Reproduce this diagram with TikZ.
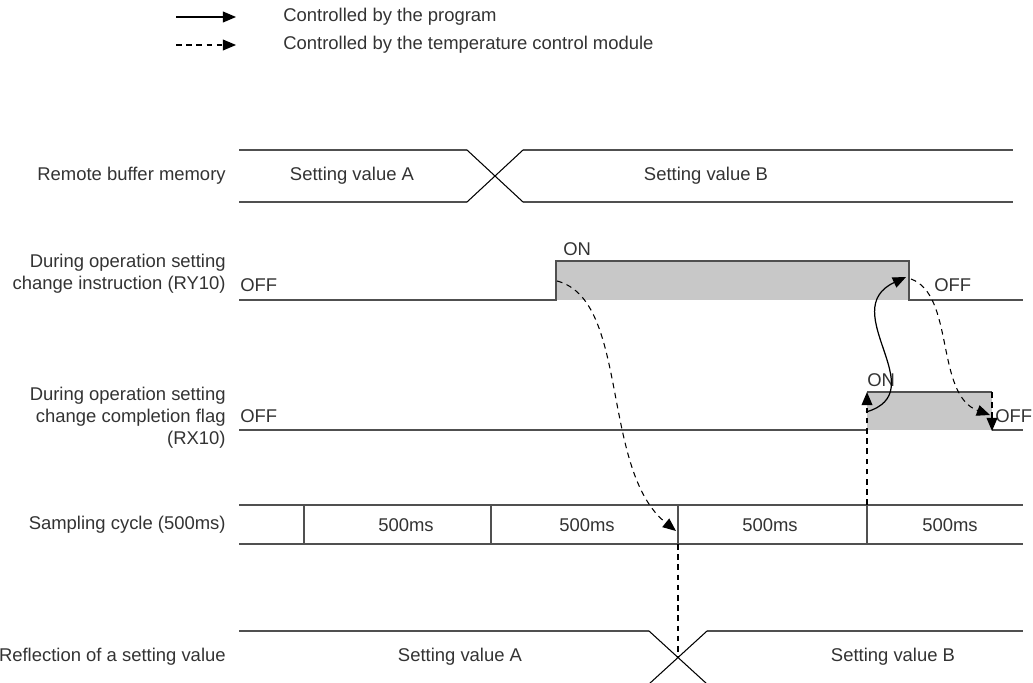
\documentclass[tikz,border=0pt]{standalone}
\usepackage{fontspec}
\setmainfont{Liberation Sans}
\usepackage{tikz}
\usetikzlibrary{arrows.meta,calc}
\definecolor{linegray}{HTML}{505050}
\definecolor{textgray}{HTML}{333333}
\definecolor{fillgray}{HTML}{C8C8C8}
\tikzset{every node/.append style={font=\fontsize{10.5}{12.6}\selectfont,text=textgray,inner sep=0pt},
  sig/.style={linegray,line width=0.9pt},
  cross/.style={black,line width=0.6pt},
  dsh/.style={black,line width=0.6pt,dash pattern=on 3.2pt off 2.6pt},
  sol/.style={black,line width=0.7pt},
  lbl/.style={anchor=east,align=right}}

\begin{document}
\begin{tikzpicture}[x=0.02cm,y=-0.02cm,>={Triangle[length=7.5pt,width=6.2pt]}]
  \useasboundingbox (0,0) rectangle (1033,682);
  % legend
  \coordinate (legA) at (176,17);  \coordinate (legB) at (236,17);
  \coordinate (legC) at (176,45);  \coordinate (legD) at (236,45);
  \draw[sol,->] (legA)--(legB);
  \draw[dsh,->] (legC)--(legD);
  \node[anchor=west] (legprog) at (283,17) {Controlled by the program};
  \node[anchor=west] (legmod) at (283,45) {Controlled by the temperature control module};
  % signal names
  \node[lbl] (nbuf) at (226,176) {Remote buffer memory};
  \node[lbl] (nry) at (226,274) {During operation setting\\change instruction (RY10)};
  \node[lbl] (nrx) at (226,418) {During operation setting\\change completion flag\\(RX10)};
  \node[lbl] (nsmp) at (226,525) {Sampling cycle (500ms)};
  \node[lbl] (nref) at (226,657) {Reflection of a setting value};
  % remote buffer memory
  \draw[sig] (239,150)--(467,150) (523,150)--(1013,150);
  \draw[sig] (239,202)--(467,202) (523,202)--(1013,202);
  \draw[cross] (467,150)--(523,202) (467,202)--(523,150);
  \node (bufA) at (352,176) {Setting value A};
  \node (bufB) at (706,176) {Setting value B};
  % RY10
  \fill[fillgray] (556,261) rectangle (909,300);
  \draw[sig] (239,300)--(556,300)--(556,261)--(909,261)--(909,300)--(1023,300);
  \node[anchor=west] (ryoffa) at (240,285) {OFF};
  \node[anchor=west] (ryon) at (563,249) {ON};
  \node[anchor=west] (ryoffb) at (934,285) {OFF};
  % RX10
  \fill[fillgray] (867,392) rectangle (992,430);
  \draw[sig] (239,430)--(867,430) (867,392)--(992,392) (992,430)--(1023,430);
  \node[anchor=west] (rxoffa) at (240,416) {OFF};
  \node[anchor=west] (rxon) at (867,380) {ON};
  \node[anchor=west] (rxoffb) at (995,416) {OFF};
  % sampling cycle
  \draw[sig] (239,505)--(1023,505) (239,544)--(1023,544);
  \foreach \x in {304,491,678,867}
    \draw[sig] (\x,505)--(\x,544);
  \foreach \x/\n in {406/1,587/2,770/3,950/4}
    \node (ms\n) at (\x,525) {500ms};
  % reflection of a setting value
  \draw[sig] (239,631)--(649,631) (707,631)--(1023,631);
  \draw[sig] (239,684)--(649,684) (707,684)--(1023,684);
  \draw[cross] (649,631)--(707,684) (649,684)--(707,631);
  \node (refA) at (460,657) {Setting value A};
  \node (refB) at (893,657) {Setting value B};
  % transitions
  \coordinate (ryrise) at (557,281);
  \coordinate (smpA) at (676,531);
  \coordinate (smpAb) at (678,544);
  \coordinate (refX) at (678,657);
  \coordinate (smpB) at (867,505);
  \coordinate (rxrise) at (867,392);
  \coordinate (rxmid) at (866,412);
  \coordinate (ryfall) at (906,277);
  \coordinate (ryfallb) at (911,279);
  \coordinate (rxfall) at (990,415);
  \coordinate (rxtop) at (992,392);
  \coordinate (rxbot) at (992,431);
  \draw[dsh,->] (ryrise) .. controls (630,300) and (600,470) .. (smpA);
  \draw[dsh] (smpAb)--(refX);
  \draw[dsh,->] (smpB)--(rxrise);
  \draw[sol,->] (rxmid) .. controls (935,392) and (835,310) .. (ryfall);
  \draw[dsh,->] (ryfallb) .. controls (955,295) and (935,395) .. (rxfall);
  \draw[dsh,->] (rxtop)--(rxbot);
\end{tikzpicture}
\end{document}
